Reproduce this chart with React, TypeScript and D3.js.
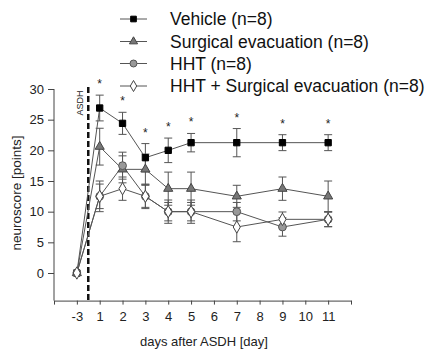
import React, { useEffect, useRef } from 'react';
import * as d3 from 'd3';

// tick labels along the x axis (evenly spaced, index 1..12)
const dayLabels = ['-3', '1', '2', '3', '4', '5', '6', '7', '8', '9', '10', '11'];
const days = ['-3', '1', '2', '3', '4', '5', '7', '9', '11'];

const vehicle = [0, 26.9, 24.4, 18.8, 20, 21.25, 21.25, 21.25, 21.25];
const vehicleErr = [0, 2.1, 1.8, 2.3, 2.0, 1.5, 2.3, 1.3, 1.3];
const surgical = [0, 20.6, 16.9, 16.9, 13.75, 13.75, 12.5, 13.75, 12.5];
const surgicalErr = [0, 3.0, 2.2, 2.5, 2.7, 2.7, 1.8, 1.9, 2.5];
const hht = [0, 12.5, 17.5, 12.5, 10, 10, 10, 7.5, 8.75];
const hhtErr = [0, 2.0, 2.2, 1.8, 1.5, 1.5, 1.5, 1.5, 1.2];
const combo = [0, 12.5, 13.75, 12.5, 10, 10, 7.5, 8.75, 8.75];
const comboErr = [0, 2.5, 1.9, 2.0, 1.9, 1.9, 2.4, 1.2, 1.2];
const significant = ['1', '2', '3', '4', '5', '7', '9', '11'];

const yTicks = [0, 5, 10, 15, 20, 25, 30];

const seriesNames = [
  'Vehicle (n=8)',
  'Surgical evacuation (n=8)',
  'HHT (n=8)',
  'HHT + Surgical evacuation (n=8)',
];

const App: React.FC = () => {
  const ref = useRef<SVGSVGElement | null>(null);

  useEffect(() => {
    const width = 429;
    const height = 350;
    const svg = d3.select(ref.current);
    svg.selectAll('*').remove();
    svg.attr('width', width).attr('height', height).style('font-family', '"Liberation Sans", Arial, sans-serif');

    const x = d3.scaleLinear().domain([0, 13]).range([54, 351]);
    const y = d3.scaleLinear().domain([-4.5, 30]).range([300.6, 89]);
    const xd = (d: string) => x(dayLabels.indexOf(d) + 1);

    const lineCol = '#555';

    // axes
    const yAxis = svg.append('g')
      .attr('transform', 'translate(54,0)')
      .call(d3.axisLeft(y).tickValues(yTicks).tickSize(6).tickSizeOuter(0).tickPadding(4));
    yAxis.select('.domain').attr('d', `M0,${y(30)}V${y(-4.5)}`);
    const xAxis = svg.append('g')
      .attr('transform', `translate(0,${y(-4.5)})`)
      .call(d3.axisBottom(x).tickValues(d3.range(0, 14)).tickSize(4).tickSizeOuter(0).tickPadding(7)
        .tickFormat((i) => dayLabels[(i as number) - 1] ?? ''));
    [yAxis, xAxis].forEach((g) => {
      g.selectAll('path, line').attr('stroke', '#444');
      g.selectAll('text').attr('fill', '#222').style('font-size', '13px').style('font-family', '"Liberation Sans", Arial, sans-serif');
    });

    svg.append('text')
      .attr('transform', `translate(16,${193}) rotate(-90)`)
      .attr('text-anchor', 'middle')
      .attr('dy', '0.35em')
      .style('font-size', '13.5px')
      .attr('fill', '#222')
      .text('neuroscore [points]');

    svg.append('text')
      .attr('x', 204)
      .attr('y', 346)
      .attr('text-anchor', 'middle')
      .style('font-size', '13px')
      .attr('fill', '#222')
      .text('days after ASDH [day]');

    // ASDH marker
    const asdhX = x(1.5);
    svg.append('line')
      .attr('x1', asdhX).attr('x2', asdhX)
      .attr('y1', 87).attr('y2', y(-4.5))
      .attr('stroke', '#111').attr('stroke-width', 2.5).attr('stroke-dasharray', '6,3');
    svg.append('text')
      .attr('transform', `translate(${asdhX - 8},${103}) rotate(-90)`)
      .attr('text-anchor', 'middle')
      .attr('dy', '0.35em')
      .style('font-size', '9px')
      .attr('fill', '#222')
      .text('ASDH');

    const groups = [
      { vals: vehicle, errs: vehicleErr, shape: d3.symbolSquare, size: 40, fill: '#000', stroke: '#000' },
      { vals: surgical, errs: surgicalErr, shape: d3.symbolTriangle, size: 36, fill: '#777', stroke: '#444' },
      { vals: hht, errs: hhtErr, shape: d3.symbolCircle, size: 48, fill: '#999', stroke: '#555' },
      { vals: combo, errs: comboErr, shape: d3.symbolDiamond, size: 44, fill: '#fff', stroke: '#444' },
    ];

    const line = d3.line<number>().x((_, i) => xd(days[i])).y((v) => y(v));

    // error bars
    groups.forEach((g) => {
      const eg = svg.append('g');
      g.vals.forEach((v, i) => {
        const e = g.errs[i];
        if (!e) return;
        const cx = xd(days[i]);
        eg.append('line').attr('x1', cx).attr('x2', cx).attr('y1', y(v - e)).attr('y2', y(v + e))
          .attr('stroke', lineCol).attr('stroke-width', 1);
        [v - e, v + e].forEach((t) => {
          eg.append('line').attr('x1', cx - 4).attr('x2', cx + 4).attr('y1', y(t)).attr('y2', y(t))
            .attr('stroke', lineCol).attr('stroke-width', 1);
        });
      });
    });

    // lines
    groups.forEach((g) => {
      svg.append('path').attr('d', line(g.vals)).attr('fill', 'none').attr('stroke', lineCol).attr('stroke-width', 1);
    });

    // markers
    groups.forEach((g) => {
      svg.append('g').selectAll('path').data(g.vals).enter().append('path')
        .attr('d', d3.symbol().type(g.shape).size(g.size)())
        .attr('transform', (v, i) => `translate(${xd(days[i])},${y(v)})`)
        .attr('fill', g.fill).attr('stroke', g.stroke).attr('stroke-width', 1);
    });

    // significance asterisks
    significant.forEach((d) => {
      const i = days.indexOf(d);
      svg.append('text')
        .attr('x', xd(d)).attr('y', y(vehicle[i] + vehicleErr[i]) - 7)
        .attr('text-anchor', 'middle')
        .style('font-size', '12px')
        .attr('fill', '#222')
        .text('*');
    });

    // legend
    const leg = svg.append('g');
    const rowsY = [19, 41.5, 63.5, 86];
    groups.forEach((g, i) => {
      leg.append('line').attr('x1', 120).attr('x2', 147).attr('y1', rowsY[i]).attr('y2', rowsY[i])
        .attr('stroke', lineCol).attr('stroke-width', 1);
      leg.append('path')
        .attr('d', d3.symbol().type(g.shape).size(g.size * 0.8)())
        .attr('transform', `translate(133.5,${rowsY[i]})`)
        .attr('fill', g.fill).attr('stroke', g.stroke);
      leg.append('text')
        .attr('x', 170).attr('y', rowsY[i]).attr('dy', '0.35em')
        .style('font-size', '17.5px')
        .attr('fill', '#111')
        .text(seriesNames[i]);
    });
  }, []);

  return (
    <div style={{ position: 'absolute', left: 0, top: 0 }}>
      <svg ref={ref}></svg>
    </div>
  );
};

export default App;
